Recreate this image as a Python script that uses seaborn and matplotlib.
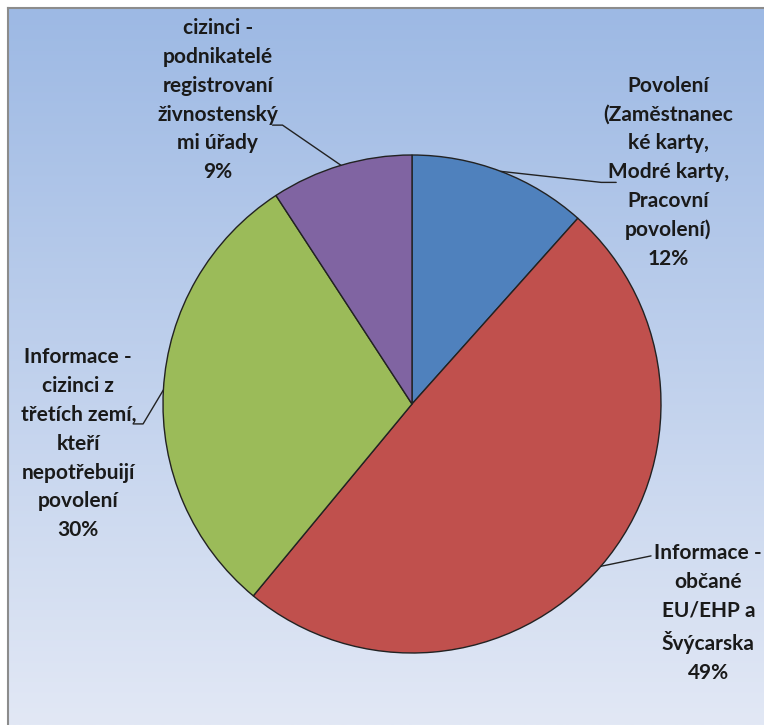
import numpy as np
import matplotlib
matplotlib.use('Agg')
import matplotlib.pyplot as plt
import seaborn as sns

sns.set_theme(style='white')
plt.rcParams['font.family'] = ['Lato', 'DejaVu Sans']

# data (share of requests, %)
categories = ['Povolení\n(Zaměstnanec\nké karty,\nModré karty,\nPracovní\npovolení)',
              'Informace -\nobčané\nEU/EHP a\nŠvýcarska',
              'Informace -\ncizinci z\ntřetích zemí,\nkteří\nnepotřebuijí\npovolení',
              'cizinci -\npodnikatelé\nregistrovaní\nživnostenský\nmi úřady']
shares = [11.6, 49.4, 29.8, 9.2]
colors = ['#4F81BD', '#C0504D', '#9BBB59', '#8064A2']

# label layout (pie radius = 1, centre = 0,0)
label_pos = [(1.03, 0.93), (1.19, -0.84), (-1.34, -0.16), (-0.78, 1.22)]
leader_end = [(0.76, 0.89), (0.96, -0.61), (-1.08, -0.08), (-0.52, 1.12)]
leader_tick = [0.06, 0.0, -0.04, -0.04]

W, H = 764, 725
fig = plt.figure(figsize=(W / 100, H / 100), dpi=100)

# gradient background with the chart-area frame (top/left visible)
bg = fig.add_axes([8 / W, 0, 1 - 8 / W, 1 - 8 / H])
grad = np.linspace(0, 1, 256)[:, None]
top = np.array([157, 185, 228]) / 255
bot = np.array([226, 232, 245]) / 255
img = top[None, None, :] * (1 - grad[..., None]) + bot[None, None, :] * grad[..., None]
bg.imshow(img, aspect='auto', extent=[0, 1, 0, 1])
bg.set_xticks([])
bg.set_yticks([])
for side in ['right', 'bottom']:
    bg.spines[side].set_visible(False)
for side in ['left', 'top']:
    bg.spines[side].set_color('#8c8c8c')
    bg.spines[side].set_linewidth(1.5)

# pie axes: centre (412, 404) px, radius 249 px
r = 249
ax = fig.add_axes([(412 - r) / W, (H - 404 - r) / H, 2 * r / W, 2 * r / H])
ax.set_facecolor('none')
wedges, _ = ax.pie(shares, colors=colors, startangle=90, counterclock=False,
                   radius=1, wedgeprops=dict(edgecolor='#222222', linewidth=1.0))
ax.set_xlim(-1, 1)
ax.set_ylim(-1, 1)
ax.set_aspect('equal')
ax.axis('off')

for w, cat, v, (tx, ty), (ex, ey), dx in zip(wedges, categories, shares,
                                             label_pos, leader_end, leader_tick):
    mid = np.deg2rad((w.theta1 + w.theta2) / 2)
    px, py = np.cos(mid), np.sin(mid)
    ax.plot([px, ex, ex + dx], [py, ey, ey], color='#222222', lw=1.0, clip_on=False)
    ax.text(tx, ty, f'{cat}\n{round(v)}%', ha='center', va='center',
            fontsize=15, fontweight='bold', color='#1a1a1a',
            linespacing=1.55, clip_on=False)

fig.savefig('out.png', dpi=100)
